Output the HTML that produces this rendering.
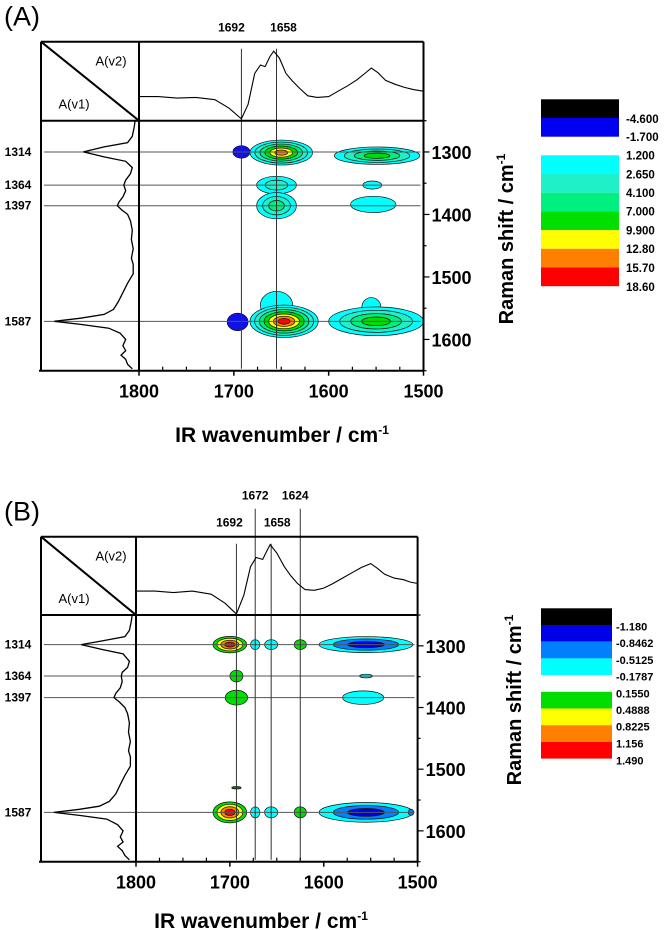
<!DOCTYPE html>
<html><head><meta charset="utf-8">
<style>
html,body{margin:0;padding:0;background:#fff;}
svg{display:block;}
text{font-family:"Liberation Sans Narrow","Liberation Sans",sans-serif;}
</style></head>
<body>
<svg id="fig" width="666" height="930" viewBox="0 0 666 930" xmlns="http://www.w3.org/2000/svg"></svg>
<script>
// ---------- DATA ----------
const irWnA  = [1800,1780,1760,1740,1720,1705,1692,1685,1678,1672,1667,1662,1658,1652,1645,1638,1630,1622,1612,1600,1590,1580,1570,1560,1555,1548,1540,1530,1520,1510,1500];
const irAbsA = [0.30,0.30,0.28,0.29,0.26,0.15,0.01,0.20,0.60,0.71,0.69,0.82,0.89,0.80,0.60,0.50,0.40,0.31,0.29,0.30,0.37,0.44,0.52,0.62,0.67,0.61,0.51,0.46,0.42,0.39,0.37];
const ramWnA  = [1250,1260,1275,1285,1292,1300,1308,1315,1325,1335,1345,1353,1362,1372,1380,1386,1393,1400,1410,1425,1440,1455,1470,1480,1495,1510,1525,1540,1552,1560,1566,1571,1576,1582,1590,1600,1610,1618,1625,1632,1640,1647];
const ramIntA = [0.02,0.03,0.05,0.10,0.35,0.57,0.35,0.12,0.05,0.07,0.12,0.14,0.12,0.15,0.19,0.21,0.16,0.10,0.07,0.05,0.06,0.04,0.06,0.04,0.04,0.10,0.15,0.20,0.25,0.35,0.60,0.88,0.60,0.30,0.18,0.12,0.15,0.12,0.17,0.12,0.10,0.05];
const irWnB  = [1800,1780,1760,1740,1720,1705,1693,1685,1678,1672,1665,1660,1657,1650,1642,1635,1628,1620,1610,1600,1590,1580,1570,1560,1550,1543,1535,1525,1515,1508,1500];
const irAbsB = [0.30,0.30,0.28,0.30,0.26,0.14,0.00,0.25,0.62,0.74,0.715,0.84,0.91,0.80,0.62,0.50,0.40,0.32,0.31,0.34,0.40,0.47,0.54,0.61,0.66,0.60,0.52,0.47,0.45,0.42,0.40];
const ramWnB  = [1250,1260,1275,1285,1292,1298,1306,1313,1325,1335,1343,1349,1358,1368,1377,1384,1391,1400,1410,1425,1440,1455,1470,1480,1495,1510,1525,1540,1552,1560,1565,1570,1575,1581,1590,1600,1610,1618,1625,1632,1640,1647];
const ramIntB = [0.02,0.03,0.05,0.10,0.35,0.58,0.35,0.12,0.05,0.07,0.13,0.14,0.13,0.15,0.20,0.22,0.16,0.10,0.07,0.05,0.06,0.04,0.06,0.04,0.04,0.10,0.15,0.20,0.27,0.38,0.60,0.88,0.60,0.30,0.18,0.12,0.15,0.12,0.18,0.13,0.10,0.05];

const vLinesA = [1692,1655];
const vLabelsA = ['1692','1658'];
const hLinesA = [1300,1353,1386,1571];
const hLabelsA = ['1314','1364','1397','1587'];
const vLinesB = [1693,1673,1656,1625];
const vLabelsB = ['1692','1672','1658','1624'];
const hLinesB = [1298,1349,1384,1570];
const hLabelsB = ['1314','1364','1397','1587'];

const pkXA  = [1692,1650,1549,1655,1655,1554,1553,1696,1655,1647,1555,1550];
const pkYA  = [1300,1301,1306,1353,1386,1353,1384,1572,1545,1571,1548,1571];
const pkRxA = [9,33,45,21,21,10,24,11,17,36,10,50];
const pkRyA = [10,20,14,14,21,6.5,13,14,22,26,15,23];
const pkLvA = [['bl'],['c','t','lg','g','y','o'],['c','t','lg','g'],['c','t'],['c','t','lg'],['c'],['c'],['bl'],['c'],['c','t','lg','g','y','o','r'],['c'],['c','t','lg','g']];

const pkXB  = [1700,1673,1656,1625,1555,1693,1555,1693,1558,1693,1700,1673,1656,1625,1555,1507];
const pkYB  = [1298,1298,1298,1298,1298,1349,1349,1384,1384,1530,1570,1570,1570,1570,1570,1570];
const pkRxB = [18,5,7,6.5,50,7,7,12,22,5,18,5,7,6.5,50,3];
const pkRyB = [13.4,8,8,8,13,9.5,3,12,11,2,17,9,9,9,16,5];
const pkLvB = [['g','y','o','r'],['c'],['c'],['g'],['c','mb','b'],['g'],['c'],['g'],['c'],['dg'],['g','y','o','r'],['c'],['c'],['g'],['c','mb','b'],['mb']];

const legColorsA = ['#000000','#0000f0',null,'#00ffff','#1ff0c8','#00f080','#00e000','#ffff00','#ff8000','#ff0000'];
const legLabelsA = ['-4.600','-1.700','1.200','2.650','4.100','7.000','9.900','12.80','15.70','18.60'];
const legColorsB = ['#000000','#0000e8','#0080ff','#00ffff',null,'#00dd00','#ffff00','#ff8000','#ff0000'];
const legLabelsB = ['-1.180','-0.8462','-0.5125','-0.1787','0.1550','0.4888','0.8225','1.156','1.490'];

const xTicks = [1800,1700,1600,1500];
const yTicks = [1300,1400,1500,1600];

const COL = {bl:'#1010e8',c:'#00ffff',t:'#1ff0c8',lg:'#00f080',g:'#00dd00',y:'#ffff00',o:'#ff8000',r:'#ff0000',mb:'#0080ff',b:'#0000e8',dg:'#008000'};

// ---------- DRAWING ----------
const NS='http://www.w3.org/2000/svg';
const fig=document.getElementById('fig');
function mk(tag,attrs,parent){const e=document.createElementNS(NS,tag);for(const k in attrs)e.setAttribute(k,attrs[k]);(parent||fig).appendChild(e);return e;}

function panel(P){
  const g=mk('g',{});
  
  
  const xs=v=>P.x0+(1800-v)*(P.x1-P.x0)/300;
  const ys=v=>P.yd+(v-1250)*(P.yb-P.yd)/400;

  const lab=mk('text',{x:4,y:P.top-16,'font-size':27,'font-family':'Liberation Sans'},g);lab.textContent='('+P.id.toUpperCase()+')';
  
  

  const cp=mk('clipPath',{id:'clip'+P.id},g);
  mk('rect',{x:P.x0,y:P.yd,width:P.x1-P.x0,height:P.yb-P.yd},cp);

  const cg=mk('g',{'clip-path':'url(#clip'+P.id+')'},g);
  
  
  for(let i=0;i<P.pkX.length;i++){
    const lv=P.pkLv[i],n=lv.length;
    for(let k=0;k<n;k++){
      const f=1-k/(n+0.3);
      const e=mk('ellipse',{cx:xs(P.pkX[i]),cy:ys(P.pkY[i]),rx:P.pkRx[i]*f*(P.x1-P.x0)/300,ry:P.pkRy[i]*f*(P.yb-P.yd)/400,fill:COL[lv[k]],stroke:'#111','stroke-width':0.7},cg);
      
      
    }
  }

  P.hLines.forEach((v,i)=>{
    const l=mk('line',{x1:P.x00+3,x2:P.x1-3,y1:ys(v),y2:ys(v),stroke:'#555','stroke-width':1},g);
    
    
    const t=mk('text',{x:18,y:ys(v)+4,'font-size':12,'font-weight':'bold','text-anchor':'middle'},g);t.textContent=P.hLabels[i];
    
    
  });
  P.vLines.forEach((v,i)=>{
    const high=P.vHigh&&P.vHigh[i];
    const l=mk('line',{x1:xs(v),x2:xs(v),y1:high?P.top-28:P.top+7,y2:P.yb-2,stroke:'#333','stroke-width':1},g);
    
    
    const t=mk('text',{x:xs(v)+(P.vDx?P.vDx[i]:0),y:high?P.top-37:P.top-10,'font-size':12,'font-weight':'bold','text-anchor':'middle'},g);t.textContent=P.vLabels[i];
    
    
  });

  let d='';P.irWn.forEach((w,i)=>{d+=(i?'L':'M')+xs(w).toFixed(1)+','+(P.yd-1-P.irAbs[i]*(P.yd-P.top-2)).toFixed(1);});
  const sp=mk('path',{d:d,fill:'none',stroke:'#000','stroke-width':1.1},g);
  
  
  d='';P.ramWn.forEach((w,i)=>{d+=(i?'L':'M')+(P.x0-2-P.ramInt[i]*(P.x0-P.x00-4)).toFixed(1)+','+ys(w).toFixed(1);});
  const sp2=mk('path',{d:d,fill:'none',stroke:'#000','stroke-width':1.3},g);
  
  

  const fr=mk('g',{stroke:'#000','stroke-width':2,fill:'none'},g);
  
  
  mk('line',{x1:P.x00,y1:P.top,x2:P.x1,y2:P.top},fr);
  mk('line',{x1:P.x00,y1:P.top,x2:P.x00,y2:P.yb},fr);
  mk('line',{x1:P.x0,y1:P.top,x2:P.x0,y2:P.yb},fr);
  mk('line',{x1:P.x1,y1:P.top,x2:P.x1,y2:P.yb},fr);
  mk('line',{x1:P.x00,y1:P.yd,x2:P.x1,y2:P.yd},fr);
  mk('line',{x1:P.x00-2,y1:P.yb,x2:P.x1,y2:P.yb},fr);
  mk('line',{x1:P.x00,y1:P.top,x2:P.x0,y2:P.yd},fr);
  const a2=mk('text',{x:P.x00+70,y:P.top+24,'font-size':13,'font-family':'Liberation Sans','text-anchor':'middle'},g);a2.textContent='A(v2)';
  
  
  const a1=mk('text',{x:P.x00+33,y:P.yd-12,'font-size':13,'font-family':'Liberation Sans','text-anchor':'middle'},g);a1.textContent='A(v1)';
  
  

  for(let v=1800;v>=1500;v-=25){
    mk('line',{x1:xs(v),x2:xs(v),y1:P.yb,y2:P.yb-(v%100===0?0:4),stroke:'#000','stroke-width':1.2},g);
  }
  for(let v=1250;v<=1650;v+=50){
    mk('line',{x1:P.x1,x2:P.x1+(v%100===0?6:3),y1:ys(v),y2:ys(v),stroke:'#000','stroke-width':1.2},g);
  }
  xTicks.forEach(v=>{
    mk('line',{x1:xs(v),x2:xs(v),y1:P.yb,y2:P.yb+5,stroke:'#000','stroke-width':1.5},g);
    const t=mk('text',{x:xs(v),y:P.yb+27,'font-size':18,'font-weight':'bold','text-anchor':'middle'},g);t.textContent=v;
    
    
  });
  yTicks.forEach(v=>{
    const t=mk('text',{x:P.x1+8,y:ys(v)+7,'font-size':18,'font-weight':'bold'},g);t.textContent=v;
    
    
  });
  const xt=mk('text',{x:P.xtx,y:P.xty,'font-size':21,'font-weight':'bold','font-family':'Liberation Sans','text-anchor':'middle'},g);
  xt.innerHTML='IR wavenumber / cm<tspan font-size="12" dy="-8">-1</tspan>';
  
  
  const yt=mk('text',{x:0,y:0,'font-size':20,'font-weight':'bold','font-family':'Liberation Sans','text-anchor':'middle',transform:'translate('+(P.ytx+7)+','+P.yty+') rotate(-90)'},g);
  yt.innerHTML='Raman shift / cm<tspan font-size="12" dy="-8">-1</tspan>';
  
  

  const lg=mk('g',{},g);
  
  
  let y=P.legTop;
  P.legC.forEach((c,i)=>{
    if(c===null){y+=P.legGap;return;}
    const r=mk('rect',{x:541,y:y,width:P.legW,height:P.legH,fill:c},lg);
    
    
    y+=P.legH;
  });
  P.legL.forEach((s,i)=>{
    const t=mk('text',{x:P.legLx,y:P.legLy[i]+4,'font-size':P.legFs,'font-weight':'bold'},lg);t.textContent=s;
    
    
  });
}

panel({id:'a',x00:41,x0:139,x1:423.5,top:41.7,yd:120.7,yb:370.7,
  irWn:irWnA,irAbs:irAbsA,ramWn:ramWnA,ramInt:ramIntA,
  vLines:vLinesA,vLabels:vLabelsA,hLines:hLinesA,hLabels:hLabelsA,vDx:[-10,7],
  pkX:pkXA,pkY:pkYA,pkRx:pkRxA,pkRy:pkRyA,pkLv:pkLvA,
  xtx:282,xty:442,ytx:506,yty:239,
  legC:legColorsA,legL:legLabelsA,legTop:99.3,legH:18.7,legGap:18.6,legW:78,legLx:626,legFs:11.5,
  legLy:[119,137,155.7,174.3,193,211.7,230.7,249,268,287]});
panel({id:'b',x00:41,x0:136,x1:417.6,top:536.7,yd:615,yb:861.7,
  irWn:irWnB,irAbs:irAbsB,ramWn:ramWnB,ramInt:ramIntB,
  vLines:vLinesB,vLabels:vLabelsB,hLines:hLinesB,hLabels:hLabelsB,vHigh:[false,true,false,true],vDx:[-7,0,6,-5],
  pkX:pkXB,pkY:pkYB,pkRx:pkRxB,pkRy:pkRyB,pkLv:pkLvB,
  xtx:261,xty:928,ytx:514,yty:700,
  legC:legColorsB,legL:legLabelsB,legTop:608.3,legH:16.7,legGap:16.7,legW:71,legLx:616,legFs:11,
  legLy:[626.7,643,660,676.7,693.3,710,726.7,743.3,760.7]});
</script>
</body></html>
